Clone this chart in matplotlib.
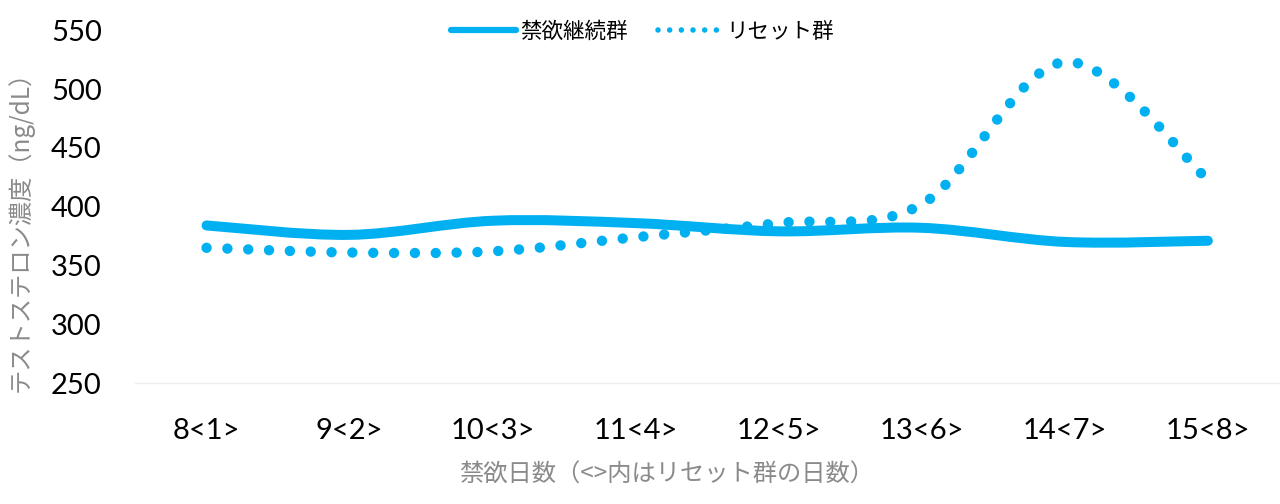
import matplotlib
matplotlib.use("Agg")
import matplotlib.pyplot as plt
import numpy as np
from matplotlib.path import Path
from matplotlib.patches import PathPatch
from matplotlib.lines import Line2D

plt.rcParams['font.family'] = ['Lato', 'Noto Sans CJK JP', 'DejaVu Sans']

# data
categories = ['8<1>', '9<2>', '10<3>', '11<4>', '12<5>', '13<6>', '14<7>', '15<8>']
continued = [384, 376, 388, 386, 379, 382, 370, 371]   # 禁欲継続群
reset = [365, 361, 362, 374, 386, 402, 523, 423]       # リセット群
series_names = ['禁欲継続群', 'リセット群']
y_ticks = [250, 300, 350, 400, 450, 500, 550]

BLUE = '#00B0F0'
GRAY = '#8a8a8a'
JP = ['Noto Sans CJK JP', 'DejaVu Sans']


def smooth_path(ys):
    """Excel-like smoothed line: Catmull-Rom as cubic Bezier segments."""
    xs = np.arange(len(ys), dtype=float)
    pts = np.column_stack([xs, np.asarray(ys, dtype=float)])
    ext = np.vstack([pts[0], pts, pts[-1]])
    verts = [pts[0]]
    codes = [Path.MOVETO]
    for i in range(len(pts) - 1):
        p0, p1, p2, p3 = ext[i], ext[i + 1], ext[i + 2], ext[i + 3]
        verts += [p1 + (p2 - p0) / 6, p2 - (p3 - p1) / 6, p2]
        codes += [Path.CURVE4] * 3
    return Path(verts, codes)


fig = plt.figure(figsize=(12.8, 5.04), dpi=100)
ax = fig.add_axes([0.1055, 0.240, 0.894, 0.700])

x = np.arange(len(categories))
ax.add_patch(PathPatch(smooth_path(continued), fill=False, edgecolor=BLUE,
                       lw=7.2, capstyle='round', joinstyle='round'))
ax.add_patch(PathPatch(smooth_path(reset), fill=False, edgecolor=BLUE,
                       lw=7.5, capstyle='round', linestyle=(0, (0.001, 2.0))))

ax.set_xlim(-0.5, len(categories) - 0.5)
ax.set_ylim(250, 550)
ax.set_yticks(y_ticks)
ax.set_xticks(x)
ax.set_xticklabels(categories)
ax.tick_params(axis='both', length=0, labelsize=21, colors='black')
ax.tick_params(axis='y', pad=24)
ax.tick_params(axis='x', pad=25)

for side in ['top', 'right', 'left']:
    ax.spines[side].set_visible(False)
ax.spines['bottom'].set_color('#eeeeee')
ax.spines['bottom'].set_linewidth(1)

fig.text(0.016, 0.553, 'テストステロン濃度（ng/dL）', rotation=90, ha='center',
         va='center', fontsize=17.5, color=GRAY, family=JP)
fig.text(0.521, 0.058, '禁欲日数（<>内はリセット群の日数）', ha='center',
         va='center', fontsize=17.5, color=GRAY, family=JP)

handles = [Line2D([], [], color=BLUE, lw=4.5, solid_capstyle='round'),
           Line2D([], [], color=BLUE, lw=4, linestyle=(0, (0.001, 2.1)),
                  dash_capstyle='round')]
fig.legend(handles, series_names, loc='center', bbox_to_anchor=(0.502, 0.937),
           ncol=2, frameon=False, handlelength=3.0, handletextpad=0.2,
           columnspacing=1.4, prop={'family': JP, 'size': 15.5})

fig.savefig('out.png', dpi=100)
